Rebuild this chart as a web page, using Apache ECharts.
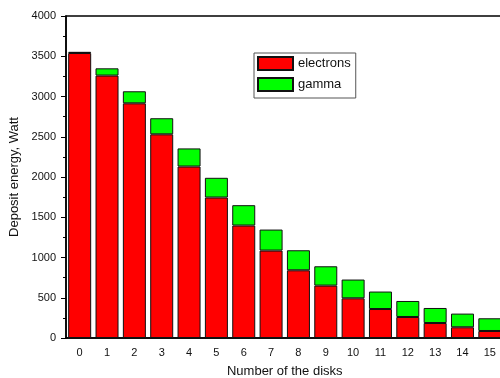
<!DOCTYPE html>
<html>
<head>
<meta charset="utf-8">
<script src="https://cdn.jsdelivr.net/npm/echarts@6/dist/echarts.min.js"></script>
<style>html,body{margin:0;padding:0;background:#fff;}#c{width:500px;height:378px;}</style>
</head>
<body>
<div id="c"></div>
<script>
var categories = ['0','1','2','3','4','5','6','7','8','9','10','11','12','13','14','15'];
var electrons = [3540, 3260, 2915, 2530, 2130, 1745, 1397, 1086, 841, 651, 493, 360, 261, 186, 133, 87];
var gamma = [15, 90, 150, 200, 225, 245, 253, 261, 249, 240, 233, 217, 199, 187, 170, 158];
var yTicks = {min: 0, max: 4000, interval: 500};

var chart = echarts.init(document.getElementById('c'), null, {renderer: 'canvas'});
var font = 'Arial, "Liberation Sans", sans-serif';
chart.setOption({
  animation: false,
  backgroundColor: '#fff',
  grid: {left: 66, top: 16, bottom: 40, right: -3.5, outerBoundsMode: 'none', containLabel: false,
    show: true, borderColor: '#000', borderWidth: 1.5, backgroundColor: 'transparent'},
  legend: {
    orient: 'vertical', left: 254, top: 53,
    itemWidth: 35, itemHeight: 13, itemGap: 6,
    padding: [3, 5, 6, 3],
    borderColor: '#555', borderWidth: 1,
    icon: 'rect',
    textStyle: {fontFamily: font, fontSize: 13, color: '#111'},
    data: ['electrons', 'gamma']
  },
  xAxis: [{
    type: 'category', data: categories, boundaryGap: true,
    name: 'Number of the disks', nameLocation: 'middle', nameGap: 27,
    nameTextStyle: {fontFamily: font, fontSize: 13, color: '#111'},
    axisLine: {lineStyle: {color: '#000', width: 1.5}},
    axisTick: {alignWithLabel: true, length: 5, lineStyle: {color: '#000'}},
    axisLabel: {fontFamily: font, fontSize: 11, color: '#111', margin: 9, interval: 0},
    splitLine: {show: false}
  }, {
    type: 'category', data: categories, boundaryGap: true, position: 'bottom',
    axisLine: {show: false},
    axisTick: {inside: true, length: 3, lineStyle: {color: '#000'}},
    axisLabel: {show: false},
    splitLine: {show: false}
  }],
  yAxis: {
    type: 'value', min: yTicks.min, max: yTicks.max, interval: yTicks.interval,
    name: 'Deposit energy, Watt', nameLocation: 'middle', nameGap: 44,
    nameTextStyle: {fontFamily: font, fontSize: 13, color: '#111'},
    axisLine: {show: true, lineStyle: {color: '#000', width: 1.5}},
    axisTick: {show: true, length: 5, lineStyle: {color: '#000'}},
    minorTick: {show: true, splitNumber: 2, length: 3, lineStyle: {color: '#000'}},
    axisLabel: {fontFamily: font, fontSize: 11, color: '#111', margin: 10, formatter: function (v) { return String(v); }},
    splitLine: {show: false}
  },
  series: [{
    name: 'electrons', type: 'bar', stack: 'total', data: electrons, barWidth: 23,
    itemStyle: {color: '#ff0000', borderColor: '#111', borderWidth: 1}
  }, {
    name: 'gamma', type: 'bar', stack: 'total', data: gamma, barWidth: 23,
    itemStyle: {color: '#00ff00', borderColor: '#111', borderWidth: 1}
  }]
});
</script>
</body>
</html>
